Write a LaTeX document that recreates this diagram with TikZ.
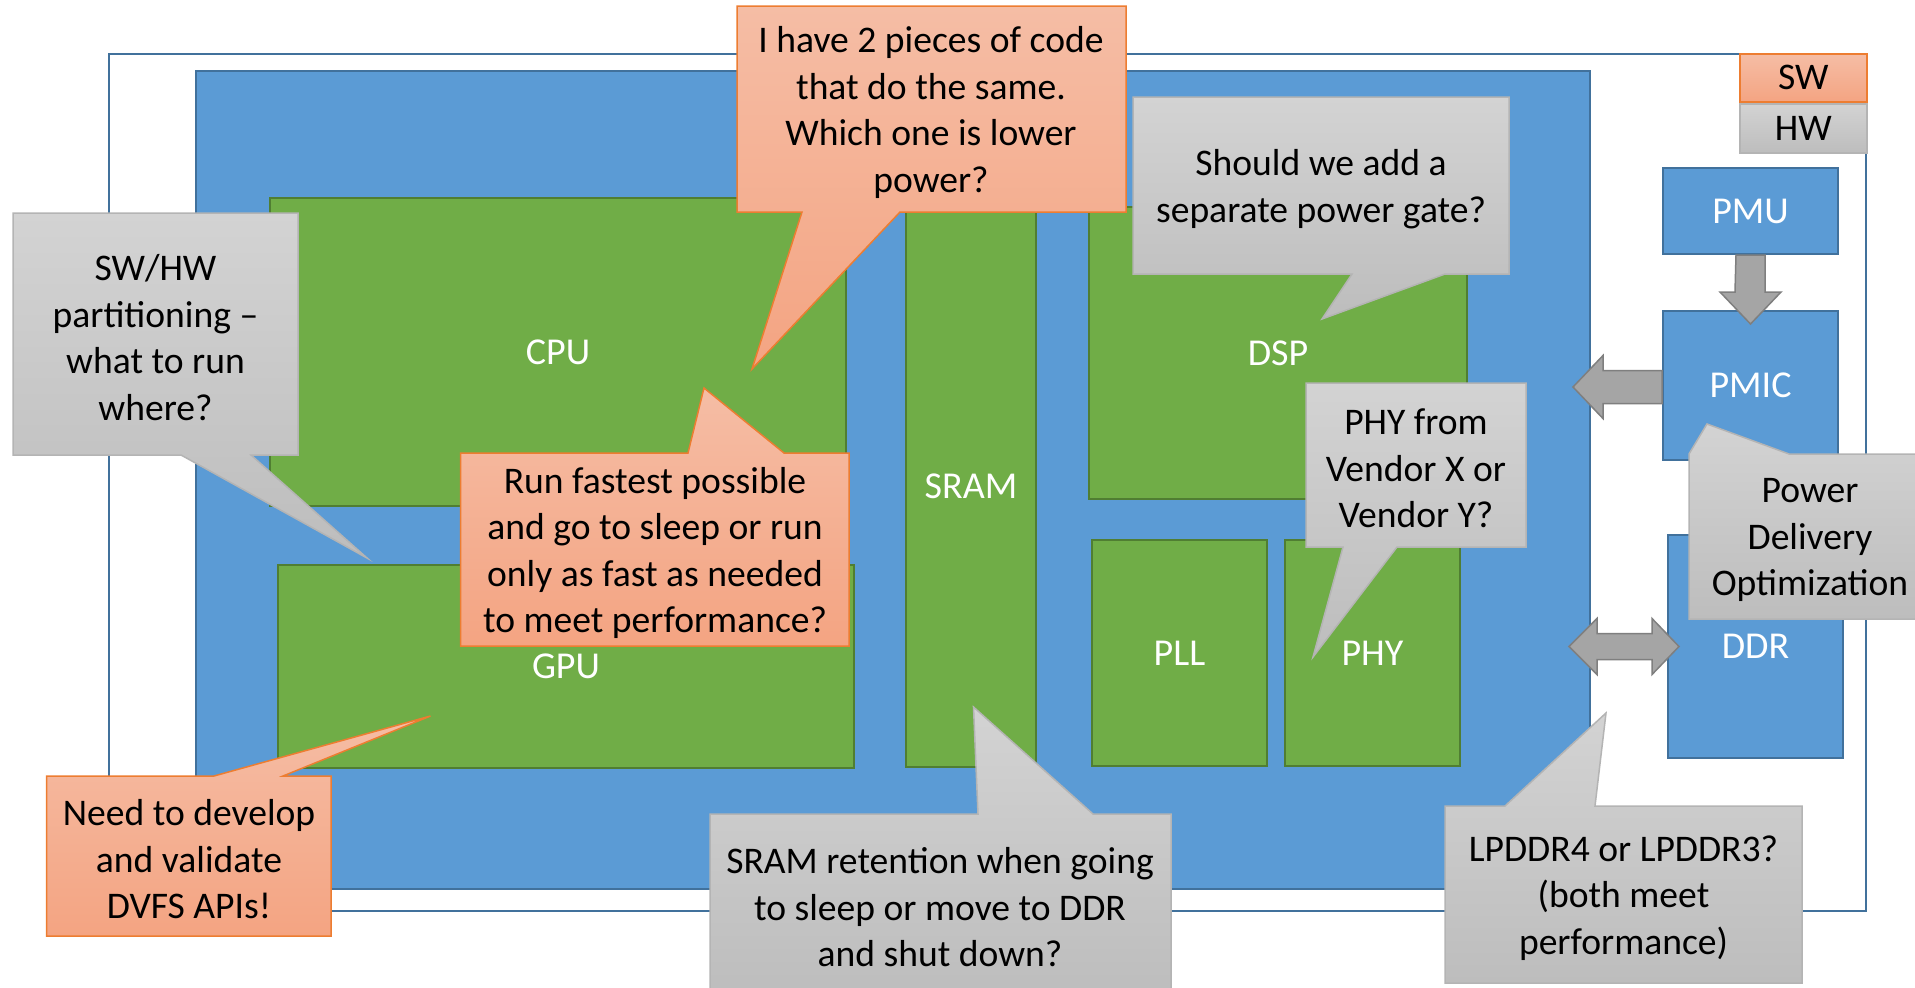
\documentclass[tikz,border=0pt]{standalone}
\usepackage{fontspec}
\setmainfont{Carlito}
\definecolor{chipblue}{HTML}{5B9BD5}
\definecolor{chipborder}{HTML}{41719C}
\definecolor{blkgreen}{HTML}{70AD47}
\definecolor{blkborder}{HTML}{507E32}
\definecolor{swtop}{HTML}{F5BDA5}
\definecolor{swbot}{HTML}{F4A482}
\definecolor{swline}{HTML}{ED7D31}
\definecolor{hwtop}{HTML}{D3D3D3}
\definecolor{hwbot}{HTML}{BDBDBD}
\definecolor{hwline}{HTML}{B4B4B4}
\definecolor{arrfill}{HTML}{A5A5A5}
\definecolor{arrline}{HTML}{7F7F7F}
\newcommand\ctxt{\fontsize{37.6}{46.5}\selectfont}
\newcommand\lbltxt{\fontsize{38}{46}\selectfont}
\tikzset{
  framebox/.style={fill=white, draw=chipborder, line width=2pt, inner sep=0, anchor=north west},
  chipbox/.style={fill=chipblue, draw=chipborder, line width=2pt, inner sep=0, anchor=north west},
  blk/.style={fill=blkgreen, draw=blkborder, line width=2pt, text=white, font=\lbltxt, inner sep=0, anchor=north west},
  bluebox/.style={fill=chipblue, draw=chipborder, line width=2pt, text=white, font=\lbltxt, inner sep=0, anchor=north west},
  swcall/.style={top color=swtop, bottom color=swbot, draw=swline, line width=1.5pt},
  hwcall/.style={top color=hwtop, bottom color=hwbot, draw=hwline, line width=1.5pt},
  ctext/.style={align=center, font=\ctxt, text=black, inner sep=0, yshift=-3.5pt},
  barrow/.style={fill=arrfill, draw=arrline, line width=1.5pt, line join=miter},
}
\begin{document}
\begin{tikzpicture}[x=1pt, y=-1pt]
\useasboundingbox (0,0) rectangle (1915,988);
% outer frame and chip
\node[framebox, minimum width=1757pt, minimum height=857pt] (frame) at (108,53) {};
\node[chipbox, minimum width=1394pt, minimum height=818pt] (chip) at (195,70) {};
% green blocks
\node[blk, minimum width=576pt, minimum height=308pt] (cpu) at (269,197) {CPU};
\node[blk, minimum width=576pt, minimum height=203pt] (gpu) at (277,564) {GPU};
\node[blk, minimum width=130pt, minimum height=562pt] (sram) at (905,204) {SRAM};
\node[blk, minimum width=378pt, minimum height=292pt] (dsp) at (1088,206) {DSP};
\node[blk, minimum width=175pt, minimum height=226pt] (pll) at (1091,539) {PLL};
\node[blk, minimum width=175pt, minimum height=226pt] (phy) at (1284,539) {PHY};
% external blue blocks
\node[bluebox, minimum width=175pt, minimum height=86pt] (pmu) at (1662,167) {PMU};
\node[bluebox, minimum width=175pt, minimum height=149pt] (pmic) at (1662,310) {PMIC};
\node[bluebox, minimum width=175pt, minimum height=223pt] (ddr) at (1667,534) {DDR};
% legend
\node[swcall, font=\ctxt, inner sep=0, anchor=north west, minimum width=127pt, minimum height=48pt] (legsw) at (1739,53) {SW};
\node[hwcall, font=\ctxt, inner sep=0, anchor=north west, minimum width=127pt, minimum height=49pt] (leghw) at (1739,103) {HW};
% block arrows
\path[barrow] ([xshift=-14.5pt]pmu.south) -- ++(29,0) -- ++(0,37) -- ++(16,0)
  -- ++(-30.5,32) -- ++(-30.5,-32) -- ++(15,0) -- cycle;
\path[barrow] ([yshift=15pt]pmic.west) -- ++(-59,0) -- ++(0,-15) -- ++(-30,31.5)
  -- ++(30,31.5) -- ++(0,-15) -- ++(59,0) -- cycle;
\path[barrow] ([xshift=12pt]ddr.west) -- ++(-27,28) -- ++(0,-15) -- ++(-55,0) -- ++(0,15)
  -- ++(-28,-28) -- ++(28,-28) -- ++(0,15) -- ++(55,0) -- ++(0,-15) -- cycle;
% callouts
\path[swcall] (737,6) -- (1126,6) -- (1126,212) -- (900,212) -- (752,369) -- (802,212) -- (737,212) -- cycle;
\node[ctext] (q1) at (931,109) {I have 2 pieces of code\\that do the same.\\Which one is lower\\power?};

\path[hwcall] (1133,97) -- (1509,97) -- (1509,274) -- (1445,274) -- (1322,319) -- (1352,274) -- (1133,274) -- cycle;
\node[ctext] (q2) at (1321,185.5) {Should we add a\\separate power gate?};

\path[hwcall] (13,213) -- (298,213) -- (298,455) -- (251,455) -- (367,558) -- (181,455) -- (13,455) -- cycle;
\node[ctext] (q3) at (155.5,334) {SW/HW\\partitioning --\\what to run\\where?};

\path[swcall] (460.5,453) -- (688,453) -- (704,388) -- (784,453) -- (849,453) -- (849,646) -- (460.5,646) -- cycle;
\node[ctext] (q4) at (655,549.5) {Run fastest possible\\and go to sleep or run\\only as fast as needed\\to meet performance?};

\path[swcall] (46.5,776) -- (214,776) -- (430.5,716) -- (283,776) -- (331,776) -- (331,936) -- (46.5,936) -- cycle;
\node[ctext] (q5) at (189,856) {Need to develop\\and validate\\DVFS APIs!};

\path[hwcall] (710,814) -- (978,814) -- (973.5,707) -- (1093,814) -- (1171,814) -- (1171,994) -- (710,994) -- cycle;
\node[ctext] (q6) at (940,904) {SRAM retention when going\\to sleep or move to DDR\\and shut down?};

\path[hwcall] (1306,383) -- (1526,383) -- (1526,547) -- (1397,547) -- (1313,657) -- (1343,547) -- (1306,547) -- cycle;
\node[ctext] (q7) at (1416,465) {PHY from\\Vendor X or\\Vendor Y?};

\path[hwcall] (1689,454) -- (1707,424) -- (1789,454) -- (1931,454) -- (1931,619) -- (1689,619) -- cycle;
\node[ctext] (q8) at (1810,536.5) {Power\\Delivery\\Optimization};

\path[hwcall] (1445,806) -- (1505,806) -- (1606,713) -- (1595,806) -- (1802,806) -- (1802,983) -- (1445,983) -- cycle;
\node[ctext] (q9) at (1623.5,894.5) {LPDDR4 or LPDDR3?\\(both meet\\performance)};
\end{tikzpicture}
\end{document}
